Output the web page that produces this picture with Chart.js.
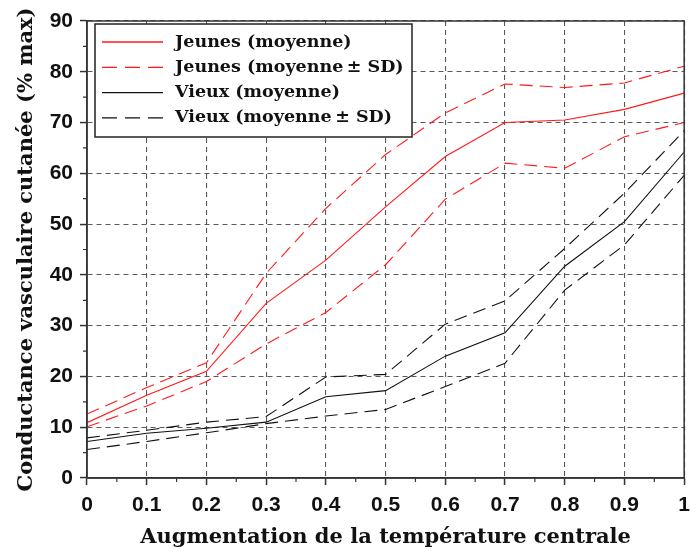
<!DOCTYPE html>
<html>
<head>
<meta charset="utf-8">
<script src="https://cdn.jsdelivr.net/npm/chart.js@4"></script>
<style>
  html, body { margin: 0; padding: 0; background: #fff; }
  #chart { display: block; }
</style>
</head>
<body>
<canvas id="chart" width="698" height="556"></canvas>
<script>
// temperature increase (x) and cutaneous vascular conductance (% max)
const xValues = [0, 0.1, 0.2, 0.3, 0.4, 0.5, 0.6, 0.7, 0.8, 0.9, 1];

const jeunesMoy  = [10.9, 16.3, 21.0, 34.4, 42.9, 53.4, 63.3, 70.0, 70.5, 72.6, 75.8];
const jeunesHaut = [12.6, 17.8, 22.7, 40.3, 53.1, 63.7, 71.9, 77.6, 76.9, 77.8, 81.1];
const jeunesBas  = [10.1, 14.2, 19.0, 26.4, 32.6, 42.0, 54.9, 62.0, 61.0, 67.2, 70.0];

const vieuxMoy  = [7.2, 8.8, 9.8, 11.0, 16.0, 17.2, 24.0, 28.6, 41.7, 50.5, 64.2];
const vieuxHaut = [7.9, 9.4, 11.0, 12.1, 19.9, 20.4, 30.3, 34.9, 45.2, 56.1, 68.4];
const vieuxBas  = [5.6, 7.2, 8.9, 10.7, 12.2, 13.5, 18.0, 22.6, 37.0, 45.9, 59.6];

const legendLabels = [
  'Jeunes (moyenne)',
  'Jeunes (moyenne\u2009\u00b1 SD)',
  'Vieux (moyenne)',
  'Vieux (moyenne\u2009\u00b1 SD)'
];
const xTitle = 'Augmentation de la temp\u00e9rature centrale';
const yTitle = 'Conductance vasculaire cutan\u00e9e (% max)';

const RED = '#ff1a1a';
const BLACK = '#111';
const DASH = [13, 7];
const SERIF = '"DejaVu Serif", serif';

function toPoints(ys) {
  return ys.map((y, i) => ({ x: xValues[i], y: y }));
}

function line(label, ys, color, dashed) {
  return {
    label: label,
    data: toPoints(ys),
    borderColor: color,
    borderWidth: 1.1,
    borderDash: dashed ? DASH : [],
    pointRadius: 0,
    fill: false,
    tension: 0
  };
}

// frame round the plot + minor ticks
const framePlugin = {
  id: 'frame',
  afterDatasetsDraw(chart) {
    const { ctx, chartArea: a, scales } = chart;
    ctx.save();
    ctx.strokeStyle = '#333';
    ctx.lineWidth = 1.5;
    ctx.strokeRect(a.left, a.top, a.right - a.left, a.bottom - a.top);
    ctx.lineWidth = 1.2;
    ctx.beginPath();
    for (let v = 0.05; v < 1; v += 0.1) {
      const px = scales.x.getPixelForValue(v);
      ctx.moveTo(px, a.bottom);
      ctx.lineTo(px, a.bottom + 4);
    }
    for (let v = 5; v < 90; v += 10) {
      const py = scales.y.getPixelForValue(v);
      ctx.moveTo(a.left, py);
      ctx.lineTo(a.left - 4, py);
    }
    ctx.stroke();
    ctx.restore();
  }
};

// boxed legend in the upper left corner of the plot
const legendPlugin = {
  id: 'boxLegend',
  afterDraw(chart) {
    const ctx = chart.ctx;
    const styles = [[RED, false], [RED, true], [BLACK, false], [BLACK, true]];
    const bx = 95, by = 24, bw = 317, bh = 113;
    ctx.save();
    ctx.fillStyle = '#fff';
    ctx.fillRect(bx, by, bw, bh);
    ctx.strokeStyle = '#222';
    ctx.lineWidth = 1.5;
    ctx.strokeRect(bx, by, bw, bh);
    ctx.font = 'bold 17.5px ' + SERIF;
    ctx.textBaseline = 'middle';
    ctx.fillStyle = '#111';
    legendLabels.forEach((txt, i) => {
      const y = 42 + i * 25.3;
      ctx.beginPath();
      ctx.strokeStyle = styles[i][0];
      ctx.lineWidth = 1.3;
      ctx.setLineDash(styles[i][1] ? [15, 8] : []);
      ctx.moveTo(102, y);
      ctx.lineTo(163, y);
      ctx.stroke();
      ctx.setLineDash([]);
      ctx.fillText(txt, 175, y);
    });
    ctx.restore();
  }
};

const gridOpts = {
  color: '#5a5a5a',
  lineWidth: 1.1,
  drawTicks: true,
  tickLength: 7,
  tickColor: '#333',
  tickWidth: 1.5,
  tickBorderDash: []
};
const borderOpts = { display: true, color: '#333', width: 1.5, dash: [5, 4] };

new Chart(document.getElementById('chart'), {
  type: 'line',
  data: {
    datasets: [
      line('Jeunes (moyenne)', jeunesMoy, RED, false),
      line('Jeunes +SD', jeunesHaut, RED, true),
      line('Jeunes -SD', jeunesBas, RED, true),
      line('Vieux (moyenne)', vieuxMoy, BLACK, false),
      line('Vieux +SD', vieuxHaut, BLACK, true),
      line('Vieux -SD', vieuxBas, BLACK, true)
    ]
  },
  options: {
    responsive: false,
    animation: false,
    devicePixelRatio: 1,
    layout: { padding: { top: 21, right: 6, left: 0, bottom: 0 } },
    plugins: {
      legend: { display: false },
      tooltip: { enabled: false }
    },
    scales: {
      x: {
        type: 'linear',
        min: 0,
        max: 1,
        grid: gridOpts,
        border: borderOpts,
        ticks: {
          stepSize: 0.1,
          color: '#111',
          padding: 8,
          maxRotation: 0,
          font: { family: 'Liberation Sans', size: 21, weight: 'bold' },
          callback: v => String(Number(v.toFixed(1)))
        },
        title: {
          display: true,
          text: xTitle,
          color: '#111',
          font: { family: SERIF, size: 21, weight: 'bold' },
          padding: { top: 0, bottom: 6 }
        },
        afterFit: s => { s.height = 78; }
      },
      y: {
        min: 0,
        max: 90,
        grid: gridOpts,
        border: borderOpts,
        ticks: {
          stepSize: 10,
          color: '#111',
          padding: 7,
          font: { family: 'Liberation Sans', size: 21, weight: 'bold' }
        },
        title: {
          display: true,
          text: yTitle,
          color: '#111',
          font: { family: SERIF, size: 21, weight: 'bold' },
          padding: { top: 14, bottom: 0 }
        },
        afterFit: s => { s.width = 87; }
      }
    }
  },
  plugins: [framePlugin, legendPlugin]
});
</script>
</body>
</html>
